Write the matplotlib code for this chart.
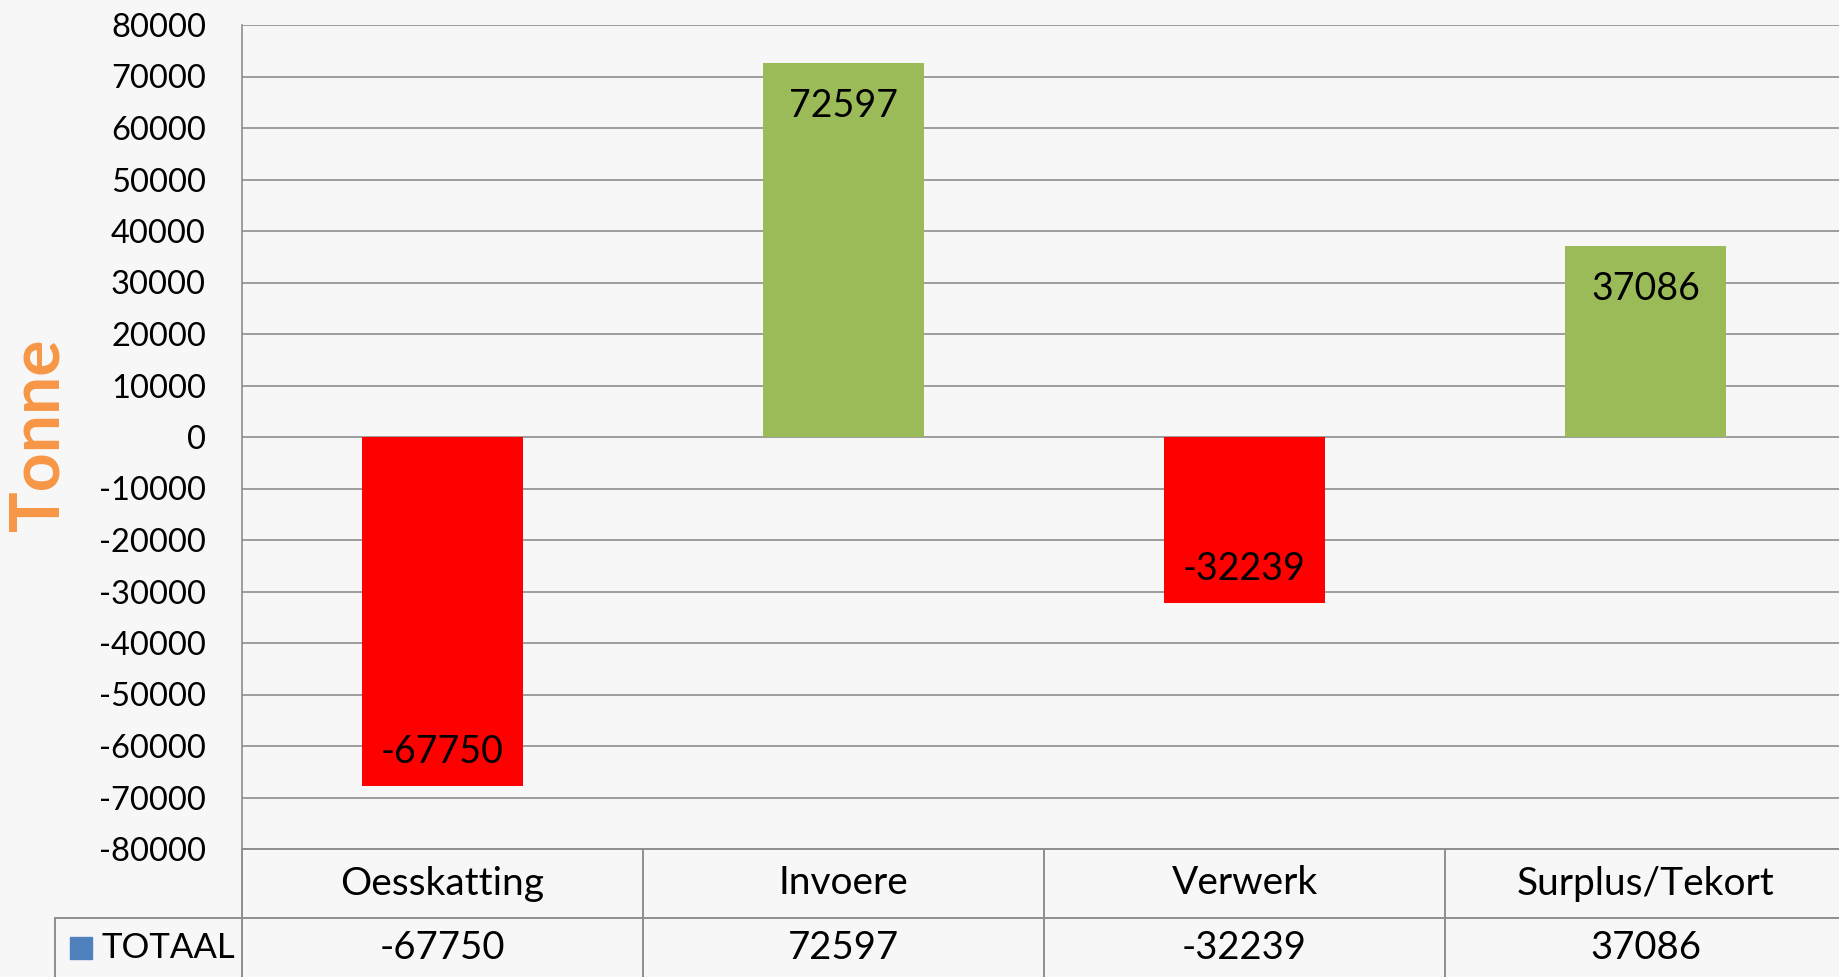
import numpy as np
import matplotlib
matplotlib.use('Agg')
import matplotlib.pyplot as plt
from matplotlib.transforms import blended_transform_factory

plt.rcParams['font.family'] = ['Lato', 'DejaVu Sans']

categories = ['Oesskatting', 'Invoere', 'Verwerk', 'Surplus/Tekort']
totaal = [-67750, 72597, -32239, 37086]
series_name = 'TOTAAL'
yticks = np.arange(-80000, 80001, 10000)

red = '#FF0000'
green = '#9BBB59'
grid_col = '#8E8E8E'
bg = '#F7F7F7'

W, H = 1839, 977
fig = plt.figure(figsize=(W / 100, H / 100), dpi=100, facecolor=bg)

# plot area in pixels
left, right, top, bottom = 242, 1846, 25, 849
ax = fig.add_axes([left / W, 1 - bottom / H, (right - left) / W, (bottom - top) / H])
ax.set_facecolor('none')

x = np.arange(len(categories))
colors = [green if v >= 0 else red for v in totaal]
ax.bar(x, totaal, width=0.4, color=colors, zorder=3)

ax.set_xlim(-0.5, len(categories) - 0.5)
ax.set_ylim(-80000, 80000)
ax.set_yticks(yticks)
ax.set_yticklabels([str(v) for v in yticks], fontsize=23.5)
ax.tick_params(axis='y', length=0, pad=26)
ax.set_xticks([])
ax.grid(axis='y', color=grid_col, linewidth=1.2, zorder=0)
for s in ['top', 'right', 'bottom']:
    ax.spines[s].set_visible(False)
ax.spines['left'].set_color(grid_col)
ax.spines['left'].set_linewidth(1.2)

for xi, v in zip(x, totaal):
    ax.annotate(str(v), (xi, v), xytext=(0, -31 if v >= 0 else 24.5),
                textcoords='offset points', ha='center', va='center',
                fontsize=27, zorder=4)

fig.text(39 / W, 1 - 435 / H, 'Tonne', rotation=90, ha='center', va='center',
         fontsize=49, fontweight='bold', color='#F79646')

# data table under the axis
tr = blended_transform_factory(ax.transData, fig.transFigure)
row1, row2, row3 = 849, 918, 990
fy = lambda p: 1 - p / H
lkw = dict(color=grid_col, linewidth=1.4, clip_on=False)
xl, xr = -0.5, len(categories) - 0.5
fig.add_artist(plt.Line2D([xl, xr], [fy(row1), fy(row1)], transform=tr, **lkw))
fig.add_artist(plt.Line2D([xl, xr], [fy(row2), fy(row2)], transform=tr, **lkw))
for b in np.arange(len(categories) + 1) - 0.5:
    fig.add_artist(plt.Line2D([b, b], [fy(row1), fy(row3)], transform=tr, **lkw))
fig.add_artist(plt.Line2D([55 / W, left / W], [fy(row2), fy(row2)], **lkw))
fig.add_artist(plt.Line2D([55 / W, 55 / W], [fy(row2), fy(row3)], **lkw))

for xi, c, v in zip(x, categories, totaal):
    fig.text(xi, fy((row1 + row2) / 2), c, transform=tr, ha='center', va='center', fontsize=28)
    fig.text(xi, fy(948), str(v), transform=tr, ha='center', va='center', fontsize=27.5)

fig.add_artist(plt.Rectangle((70 / W, fy(959)), 22 / W, 22 / H, color='#4F81BD'))
fig.text(101 / W, fy(948), series_name, ha='left', va='center', fontsize=25)

fig.savefig('out.png', dpi=100, facecolor=bg)
